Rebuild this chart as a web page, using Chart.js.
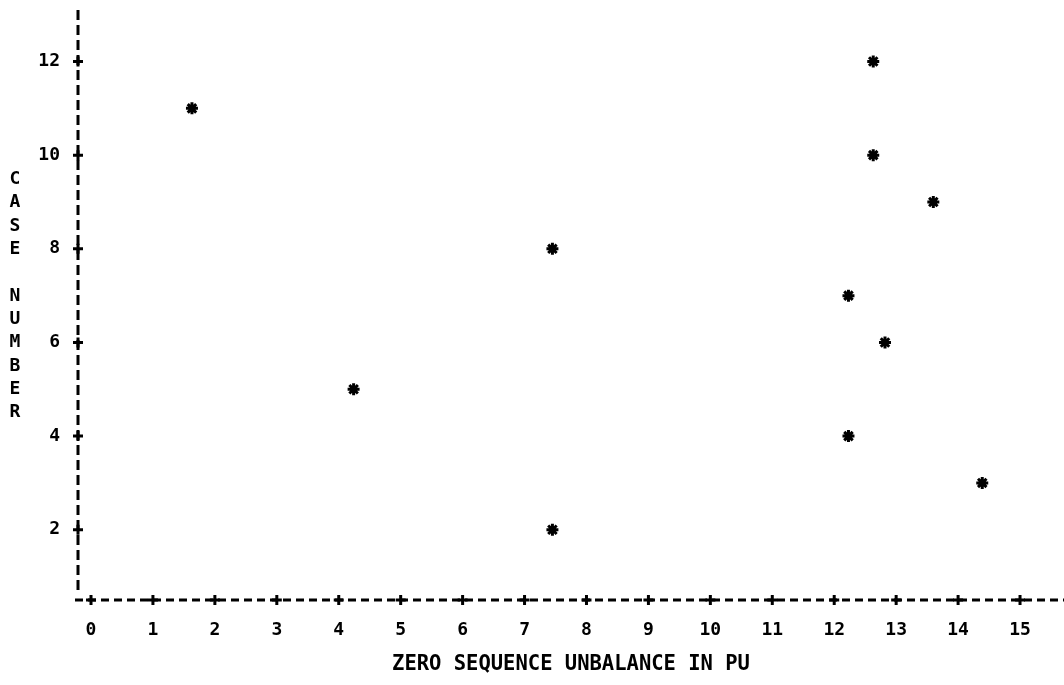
<!DOCTYPE html>
<html>
<head>
<meta charset="utf-8">
<script src="https://cdn.jsdelivr.net/npm/chart.js@4"></script>
<style>
  html, body { margin: 0; padding: 0; background: #fff; }
  canvas { display: block; }
</style>
</head>
<body>
<canvas id="grafico" width="1064" height="685"></canvas>
<script>
// valores
const xTicks = [0, 1, 2, 3, 4, 5, 6, 7, 8, 9, 10, 11, 12, 13, 14, 15];
const yTicks = [2, 4, 6, 8, 10, 12];
const unbalance = [1.63, 4.24, 7.45, 7.45, 12.23, 12.23, 12.63, 12.63, 13.6, 12.82, 14.39];
const caseNumber = [11, 5, 8, 2, 7, 4, 12, 10, 9, 6, 3];
const xTitle = 'ZERO SEQUENCE UNBALANCE IN PU';
const yTitle = 'CASE NUMBER';

const fonte = 'DejaVu Sans Mono';
const preto = '#000';

const pontos = unbalance.map((x, i) => ({ x: x, y: caseNumber[i] }));

// eixos tracejados, "+" nos ticks e titulo vertical empilhado
const marcasPlugin = {
    id: 'marcas',
    afterDraw(chart) {
        const ctx = chart.ctx;
        const area = chart.chartArea;
        const sx = chart.scales.x;
        const sy = chart.scales.y;
        ctx.save();
        ctx.strokeStyle = preto;
        ctx.lineWidth = 3;

        // linhas dos eixos
        ctx.setLineDash([10, 5]);
        ctx.beginPath();
        ctx.moveTo(area.left, area.top);
        ctx.lineTo(area.left, area.bottom - 10);
        ctx.stroke();
        ctx.setLineDash([8, 5]);
        ctx.beginPath();
        ctx.moveTo(area.left - 3, area.bottom);
        ctx.lineTo(area.right, area.bottom);
        ctx.stroke();
        ctx.setLineDash([]);

        ctx.beginPath();
        xTicks.forEach(v => {
            const px = sx.getPixelForValue(v);
            ctx.moveTo(px - 5, area.bottom);
            ctx.lineTo(px + 5, area.bottom);
            ctx.moveTo(px, area.bottom - 5);
            ctx.lineTo(px, area.bottom + 5);
        });
        yTicks.forEach(v => {
            const py = sy.getPixelForValue(v);
            ctx.moveTo(area.left - 5, py);
            ctx.lineTo(area.left + 5, py);
            ctx.moveTo(area.left, py - 5);
            ctx.lineTo(area.left, py + 5);
        });
        ctx.stroke();

        // titulo do eixo y, uma letra por linha
        ctx.fillStyle = preto;
        ctx.font = 'bold 18px "' + fonte + '"';
        ctx.textAlign = 'center';
        ctx.textBaseline = 'middle';
        const passo = 23.3;
        const meio = 296;
        const letras = yTitle.split('');
        letras.forEach((c, i) => {
            ctx.fillText(c, 15, meio + (i - (letras.length - 1) / 2) * passo);
        });
        ctx.restore();
    }
};

function semPadding(scale) {
    scale.paddingTop = 0;
    scale.paddingBottom = 0;
    scale.paddingLeft = 0;
    scale.paddingRight = 0;
}

new Chart(document.getElementById('grafico').getContext('2d'), {
    type: 'scatter',
    data: {
        datasets: [{
            data: pontos,
            pointStyle: 'star',
            pointRadius: 6,
            pointBorderWidth: 3,
            pointBorderColor: preto,
            pointBackgroundColor: preto
        }]
    },
    options: {
        responsive: false,
        animation: false,
        layout: { autoPadding: false, padding: { top: 10, right: 0, left: 0, bottom: 0 } },
        plugins: {
            legend: { display: false },
            tooltip: { enabled: false }
        },
        scales: {
            x: {
                type: 'linear',
                min: -0.21,
                max: 15.71,
                afterFit(scale) { scale.height = 85; semPadding(scale); },
                afterBuildTicks(scale) { scale.ticks = xTicks.map(v => ({ value: v })); },
                grid: { display: false, drawTicks: false },
                border: { display: false },
                ticks: {
                    color: preto,
                    padding: 20,
                    maxRotation: 0,
                    autoSkip: false,
                    font: { family: fonte, size: 18, weight: 'bold' }
                },
                title: {
                    display: true,
                    text: xTitle,
                    color: preto,
                    padding: { top: 0, bottom: 8 },
                    font: { family: fonte, size: 20.5, weight: 'bold' }
                }
            },
            y: {
                type: 'linear',
                min: 0.5,
                max: 13.1,
                afterFit(scale) { scale.width = 78; semPadding(scale); },
                afterBuildTicks(scale) { scale.ticks = yTicks.map(v => ({ value: v })); },
                grid: { display: false, drawTicks: false },
                border: { display: false },
                ticks: {
                    color: preto,
                    padding: 18,
                    autoSkip: false,
                    font: { family: fonte, size: 18, weight: 'bold' }
                }
            }
        }
    },
    plugins: [marcasPlugin]
});
</script>
</body>
</html>
